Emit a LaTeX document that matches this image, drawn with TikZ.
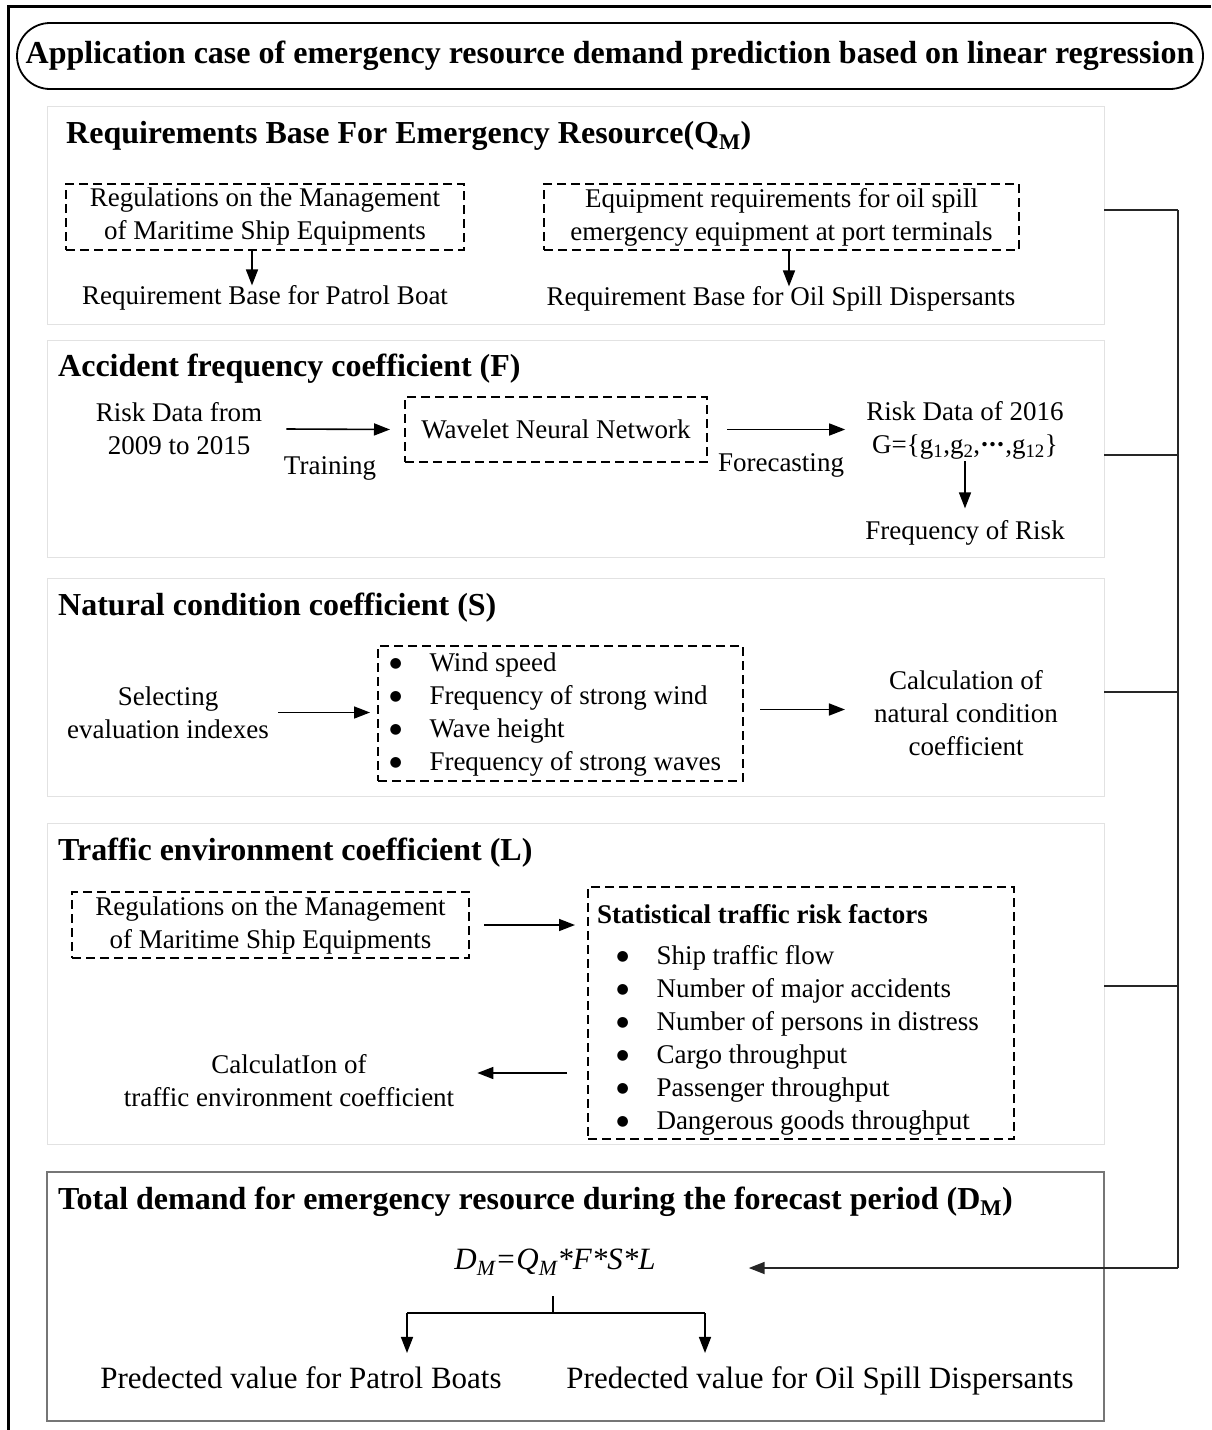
\documentclass[tikz,border=0pt]{standalone}
\usepackage{fontspec}
\setmainfont{Liberation Serif}
\newfontfamily\symfont{DejaVu Sans}
\usepackage{tikz}
\usetikzlibrary{arrows.meta,positioning,calc}
\definecolor{panelgray}{HTML}{E2E2E2}
\definecolor{totalgray}{HTML}{767676}
\newcommand{\blt}{\makebox[40pt][l]{\raisebox{4pt}{\symfont\fontsize{14}{14}\selectfont ●}}}
\newcommand{\bodyfont}{\fontsize{27}{33}\selectfont}
\newcommand{\headfont}{\fontsize{32}{37}\selectfont\bfseries}
\newcommand{\bigfont}{\fontsize{31}{37}\selectfont}

\begin{document}
\begin{tikzpicture}[x=1pt, y=-1pt,
  panel/.style={draw=panelgray, line width=1pt, inner sep=0pt, outer sep=0pt},
  dbox/.style={draw, dashed, dash pattern=on 9pt off 5pt, line width=1.3pt, inner sep=0pt, outer sep=0pt, align=center, font=\bodyfont},
  txt/.style={inner sep=0pt, align=center, font=\bodyfont},
  head/.style={inner sep=0pt, anchor=west, font=\headfont},
  arr/.style={-{Triangle[length=16pt,width=12pt]}, line width=1.6pt},
  busline/.style={line width=1.8pt, black!85}]
  \useasboundingbox (0,0) rectangle (1211,1430);

  % frame and title
  \draw[line width=3pt] (8,1430) -- (8,6) -- (1211,6);
  \node[draw, line width=1.8pt, rounded corners=33pt, minimum width=1186pt, minimum height=66pt,
        inner sep=0pt, font=\fontsize{32}{37}\selectfont\bfseries] (title) at (610,56)
    {Application case of emergency resource demand prediction based on linear regression};

  % requirements base
  \node[panel, minimum width=1057pt, minimum height=218pt] (sec1) at (575.5,215) {};
  \node[head] (head1) at (66,136) {Requirements Base For Emergency Resource(Q\textsubscript{M})};
  \node[dbox, minimum width=398pt, minimum height=66pt] (box1) at (265,217)
    {Regulations on the Management\\of Maritime Ship Equipments};
  \node[dbox, minimum width=475pt, minimum height=66pt] (box2) at (781.5,217)
    {Equipment requirements for oil spill\\emergency equipment at port terminals};
  \node[txt] (patrol) at (265,298) {Requirement Base for Patrol Boat};
  \node[txt] (oilreq) at (781,299) {Requirement Base for Oil Spill Dispersants};
  \draw[arr] ([xshift=-13pt]box1.south) -- ([xshift=-13pt]box1.south |- patrol.north);
  \draw[arr] ([xshift=7.5pt]box2.south) -- ([xshift=7.5pt]box2.south |- oilreq.north);

  % accident frequency
  \node[panel, minimum width=1057pt, minimum height=217pt] (sec2) at (575.5,448.5) {};
  \node[head] (head2) at (58,369) {Accident frequency coefficient (F)};
  \node[txt] (riskin) at (179,429) {Risk Data from\\2009 to 2015};
  \node[dbox, minimum width=302pt, minimum height=65pt] (wnn) at (556,429.5) {Wavelet Neural Network};
  \node[txt] (training) at (330,468) {Training};
  \node[txt] (forecast) at (781,465) {Forecasting};
  \node[txt] (risk16) at (965,411) {Risk Data of 2016};
  \node[txt] (gset) at (965,447)
    {G=\{g\textsubscript{1},g\textsubscript{2},\textbf{\textperiodcentered\kern-1pt\textperiodcentered\kern-1pt\textperiodcentered},g\textsubscript{12}\}};
  \node[txt] (freq) at (965,533) {Frequency of Risk};
  \draw[arr] ([xshift=24pt]riskin.east) -- ([xshift=-15pt]wnn.west);
  \draw[arr] ([xshift=20pt]wnn.east) -- ([xshift=-21pt]risk16.west |- wnn.east);
  \draw[arr, shorten <=2pt, shorten >=12pt] (gset.south) -- (freq.north);

  % natural condition
  \node[panel, minimum width=1057pt, minimum height=218pt] (sec3) at (575.5,687) {};
  \node[head] (head3) at (58,608) {Natural condition coefficient (S)};
  \node[txt] (sel) at (168,712.5) {Selecting\\evaluation indexes};
  \node[dbox, minimum width=365pt, minimum height=135pt] (windbox) at (560.5,713.5) {};
  \node[txt, align=left, anchor=west] (windlist) at (389.3,715)
    {\blt Wind speed\\\blt Frequency of strong wind\\\blt Wave height\\\blt Frequency of strong waves};
  \node[txt] (natcalc) at (966,713.5) {Calculation of\\natural condition\\coefficient};
  \draw[arr] ([xshift=9pt]sel.east) -- ([xshift=-8pt]windbox.west |- sel.east);
  \draw[arr] ([yshift=4pt,xshift=17pt]windbox.east) -- ([yshift=4pt,xshift=-29pt]natcalc.west |- windbox.east);

  % traffic environment
  \node[panel, minimum width=1057pt, minimum height=321pt] (sec4) at (575.5,983.5) {};
  \node[head] (head4) at (58,853) {Traffic environment coefficient (L)};
  \node[dbox, minimum width=397pt, minimum height=66pt] (regbox) at (270.5,925)
    {Regulations on the Management\\of Maritime Ship Equipments};
  \node[dbox, minimum width=426pt, minimum height=252pt] (statbox) at (801,1013) {};
  \node[txt, anchor=west, font=\fontsize{27}{33}\selectfont\bfseries] (stathead) at (597,914)
    {Statistical traffic risk factors};
  \node[txt, align=left, anchor=west] (statlist) at (616.3,1040)
    {\blt Ship traffic flow\\\blt Number of major accidents\\\blt Number of persons in distress\\
     \blt Cargo throughput\\\blt Passenger throughput\\\blt Dangerous goods throughput};
  \node[txt] (trcalc) at (289,1080.5) {CalculatIon of\\traffic environment coefficient};
  \draw[arr] ([xshift=15pt]regbox.east) -- ([xshift=-13pt]statbox.west |- regbox.east);
  \draw[arr] ([xshift=-21pt,yshift=7.5pt]statbox.west |- trcalc.east) -- ([xshift=23pt,yshift=7.5pt]trcalc.east);

  % total demand
  \node[panel, draw=totalgray, line width=2pt, minimum width=1057pt, minimum height=249pt] (sec5) at (575.5,1296.5) {};
  \node[head] (head5) at (58,1202) {Total demand for emergency resource during the forecast period (D\textsubscript{M})};
  \node[txt, font=\bigfont\itshape] (dm) at (555,1262)
    {D\textsubscript{M}=Q\textsubscript{M}*F*S*L};
  \node[txt, font=\bigfont, anchor=base] (predA) at (301,1388) {Predected value for Patrol Boats};
  \node[txt, font=\bigfont, anchor=base] (predB) at (820,1388) {Predected value for Oil Spill Dispersants};
  \coordinate (fork) at (553,1313);
  \coordinate (forkL) at (407,1313);
  \coordinate (forkR) at (705,1313);
  \draw[line width=1.6pt] (fork |- 0,1296) -- (fork);
  \draw[line width=1.6pt] (forkL) -- (forkR);
  \draw[arr, shorten >=13pt] (forkL) -- (forkL |- predA.north);
  \draw[arr, shorten >=13pt] (forkR) -- (forkR |- predA.north);

  % collecting line on the right
  \coordinate (bustop) at (1178,210);
  \coordinate (bus) at (1178,1268);
  \foreach \s/\dy in {sec1/5, sec2/-6.5, sec3/-5, sec4/-2.5}
    \draw[busline] ([yshift=\dy pt]\s.east) -- ([yshift=\dy pt]\s.east -| bus);
  \draw[busline] (bustop) -- (bus);
  \draw[busline, -{Triangle[length=16pt,width=12pt]}] (bus) -- ([xshift=93pt]dm.east |- bus);
\end{tikzpicture}
\end{document}
